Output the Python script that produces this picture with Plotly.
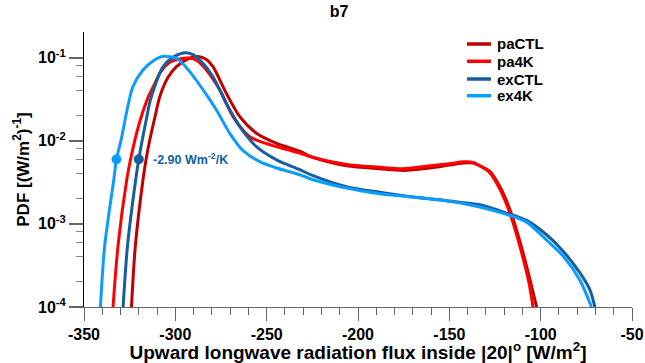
import numpy as np
import plotly.graph_objects as go

# ---------------- data ----------------
series_names = ["paCTL", "pa4K", "exCTL", "ex4K"]
series_colors = ["#c00000", "#ff0000", "#135fa1", "#0c9bff"]

paCTL_x = [-324.0, -321.9, -317.7, -316.0, -314.0, -311.0, -308.5, -304.0, -299.4, -293.0, -287.6, -283.0,
           -279.4, -272.0, -264.7, -255.6, -244.6, -231.9, -224.6, -206.3, -188.1, -175.3, -160.7, -150.0,
           -142.4, -137.0, -133.3, -127.8, -122.3, -116.9, -111.4, -106.0, -102.2]
paCTL_y = [1.0e-4, 5.4e-4, 3.4e-3, 6.0e-3, 1.02e-2, 2.0e-2, 3.4e-2, 5.8e-2, 7.8e-2, 9.7e-2, 1.03e-1, 9.5e-2,
           7.8e-2, 3.7e-2, 1.95e-2, 1.23e-2, 9.3e-3, 7.5e-3, 6.3e-3, 5.0e-3, 4.6e-3, 4.4e-3, 4.7e-3, 5.1e-3,
           5.4e-3, 5.4e-3, 5.0e-3, 4.3e-3, 2.8e-3, 1.5e-3, 6.2e-4, 2.2e-4, 1.0e-4]

pa4K_x = [-334.1, -331.4, -326.6, -324.5, -322.0, -318.5, -314.5, -311.2, -308.5, -303.0, -297.0, -292.5,
          -288.0, -283.0, -275.7, -268.4, -259.3, -248.3, -242.8, -231.9, -224.6, -206.3, -188.1, -175.3,
          -160.7, -150.0, -142.4, -137.0, -133.3, -127.8, -122.3, -116.9, -111.4, -106.5, -104.2]
pa4K_y = [1.0e-4, 5.4e-4, 3.4e-3, 6.0e-3, 1.05e-2, 2.0e-2, 3.5e-2, 4.9e-2, 6.5e-2, 8.8e-2, 9.7e-2, 9.9e-2,
          9.2e-2, 7.1e-2, 4.1e-2, 1.95e-2, 1.12e-2, 9.0e-3, 8.3e-3, 7.1e-3, 6.3e-3, 5.2e-3, 4.8e-3, 4.6e-3,
          5.0e-3, 5.3e-3, 5.6e-3, 5.5e-3, 5.0e-3, 4.1e-3, 2.6e-3, 1.35e-3, 5.4e-4, 2.0e-4, 1.0e-4]

exCTL_x = [-328.6, -326.2, -321.7, -320.0, -318.0, -315.5, -313.9, -311.0, -306.7, -300.0, -294.5, -290.0,
           -286.6, -279.4, -272.0, -264.7, -255.6, -244.6, -231.9, -224.6, -206.3, -188.1, -169.8, -151.5,
           -133.3, -118.7, -107.7, -96.8, -87.7, -78.5, -73.1, -70.3]
exCTL_y = [1.0e-4, 5.4e-4, 3.4e-3, 6.0e-3, 1.05e-2, 2.0e-2, 2.96e-2, 4.7e-2, 7.8e-2, 1.05e-1, 1.15e-1, 1.08e-1,
           9.4e-2, 5.9e-2, 2.8e-2, 1.48e-2, 8.5e-3, 5.9e-3, 4.5e-3, 3.8e-3, 2.8e-3, 2.4e-3, 2.1e-3, 1.9e-3,
           1.7e-3, 1.35e-3, 1.1e-3, 7.4e-4, 4.7e-4, 2.57e-4, 1.62e-4, 1.0e-4]

ex4K_x = [-341.0, -338.7, -333.7, -332.2, -329.5, -326.5, -323.2, -317.7, -312.0, -306.5, -299.0, -292.1,
          -284.8, -277.5, -270.2, -262.9, -253.8, -244.6, -231.9, -224.6, -206.3, -188.1, -169.8, -151.5,
          -133.3, -118.7, -107.7, -96.8, -87.7, -78.5, -72.2]
ex4K_y = [1.0e-4, 5.4e-4, 3.4e-3, 6.0e-3, 1.07e-2, 2.3e-2, 4.5e-2, 7.1e-2, 9.2e-2, 1.04e-1, 9.7e-2, 6.8e-2,
          4.1e-2, 2.35e-2, 1.23e-2, 7.6e-3, 5.6e-3, 4.7e-3, 3.9e-3, 3.4e-3, 2.7e-3, 2.3e-3, 2.1e-3, 1.9e-3,
          1.6e-3, 1.3e-3, 1.05e-3, 6.4e-4, 4.1e-4, 2.1e-4, 1.0e-4]

# sensitivity markers (ex4K, exCTL) at a common PDF level
marker_x = [-332.2, -320.0]
marker_y = [6.0e-3, 6.0e-3]
marker_colors = ["#0c9bff", "#135fa1"]
marker_label = "-2.90 Wm<sup>-2</sup>/K"

x_tickvals = [-350, -300, -250, -200, -150, -100, -50]
x_minor = [v for v in range(-350, -49, 10) if v % 50 != 0]
y_tickvals = [1e-4, 1e-3, 1e-2, 1e-1]
y_ticktext = ["10<sup>-4</sup>", "10<sup>-3</sup>", "10<sup>-2</sup>", "10<sup>-1</sup>"]
y_minor = [m * 10.0 ** e for e in (-4, -3, -2) for m in (2, 4, 6, 8)]

title_text = "b7"
x_title = "Upward longwave radiation flux inside |20|<sup>o</sup> [W/m<sup>2</sup>]"
y_title = "PDF [(W/m<sup>2</sup>)<sup>-1</sup>]"

# ---------------- layout geometry (pixels) ----------------
W, H = 645, 363
ML, MR, MT, MB = 84, 13, 32, 56
PW, PH = W - ML - MR, H - MT - MB


def px_to_paper_x(px):
    return (px - ML) / PW


def py_to_paper_y(py):
    return (H - MB - py) / PH


FONT = "Liberation Sans, Arial, Helvetica, sans-serif"
fig = go.Figure()
all_x = [paCTL_x, pa4K_x, exCTL_x, ex4K_x]
all_y = [paCTL_y, pa4K_y, exCTL_y, ex4K_y]
for name, col, xs, ys in zip(series_names, series_colors, all_x, all_y):
    fig.add_trace(go.Scatter(x=xs, y=ys, mode="lines", name=name, showlegend=False,
                             line=dict(color=col, width=3, shape="spline", smoothing=0.8)))

fig.add_trace(go.Scatter(x=marker_x, y=marker_y, mode="markers", showlegend=False,
                         marker=dict(color=marker_colors, size=10)))

fig.add_annotation(x=marker_x[1] + 6.5, y=np.log10(marker_y[1]), xref="x", yref="y",
                   text="<b>" + marker_label + "</b>", showarrow=False, xanchor="left",
                   font=dict(family=FONT, size=12.5, color="#135fa1"))

# legend drawn as line samples + labels (compact spacing as in the original)
leg_y_px = [44.0, 61.3, 79.0, 95.7]
for name, col, ly in zip(series_names, series_colors, leg_y_px):
    yp = py_to_paper_y(ly)
    fig.add_shape(type="line", xref="paper", yref="paper",
                  x0=px_to_paper_x(467), x1=px_to_paper_x(491), y0=yp, y1=yp,
                  line=dict(color=col, width=3.5))
    fig.add_annotation(xref="paper", yref="paper", x=px_to_paper_x(495), y=yp,
                       text="<b>" + name + "</b>", showarrow=False, xanchor="left", yanchor="middle",
                       font=dict(family=FONT, size=15, color="black"))

fig.update_layout(
    width=W, height=H,
    margin=dict(l=ML, r=MR, t=MT, b=MB, autoexpand=False),
    plot_bgcolor="white", paper_bgcolor="white",
    font=dict(family=FONT, color="black"),
    title=dict(text="<b>" + title_text + "</b>", x=(339 / W), xanchor="center",
               y=1 - 11 / H, yanchor="middle", font=dict(size=16, family=FONT, color="black")),
    showlegend=False,
)

fig.update_xaxes(range=[-350, -50], tickvals=x_tickvals,
                 ticktext=["<b>%d</b>" % v for v in x_tickvals],
                 ticks="outside", ticklen=13, tickwidth=1, tickcolor="#666666",
                 showline=True, linecolor="#666666", linewidth=1, mirror=False,
                 showgrid=False, zeroline=False,
                 tickfont=dict(size=16, family=FONT, color="black"),
                 minor=dict(tickvals=x_minor, ticks="outside", ticklen=7, tickcolor="#666666", tickwidth=1, showgrid=False),
                 title=dict(text="<b>" + x_title + "</b>", standoff=0,
                            font=dict(size=19, family=FONT, color="black")))

fig.update_yaxes(type="log", range=[-4, -0.691], tickvals=y_tickvals,
                 ticktext=["<b>" + t + "</b>" for t in y_ticktext],
                 ticks="outside", ticklen=14, tickwidth=1.5, tickcolor="#666666",
                 showline=True, linecolor="black", linewidth=1, mirror=False,
                 showgrid=False, zeroline=False,
                 tickfont=dict(size=16, family=FONT, color="black"),
                 minor=dict(tickvals=y_minor, ticks="outside", ticklen=7, tickcolor="#888888", tickwidth=1, showgrid=False),
                 title=dict(text="<b>" + y_title + "</b>", standoff=4,
                            font=dict(size=17, family=FONT, color="black")))

fig.write_html("out.html")
